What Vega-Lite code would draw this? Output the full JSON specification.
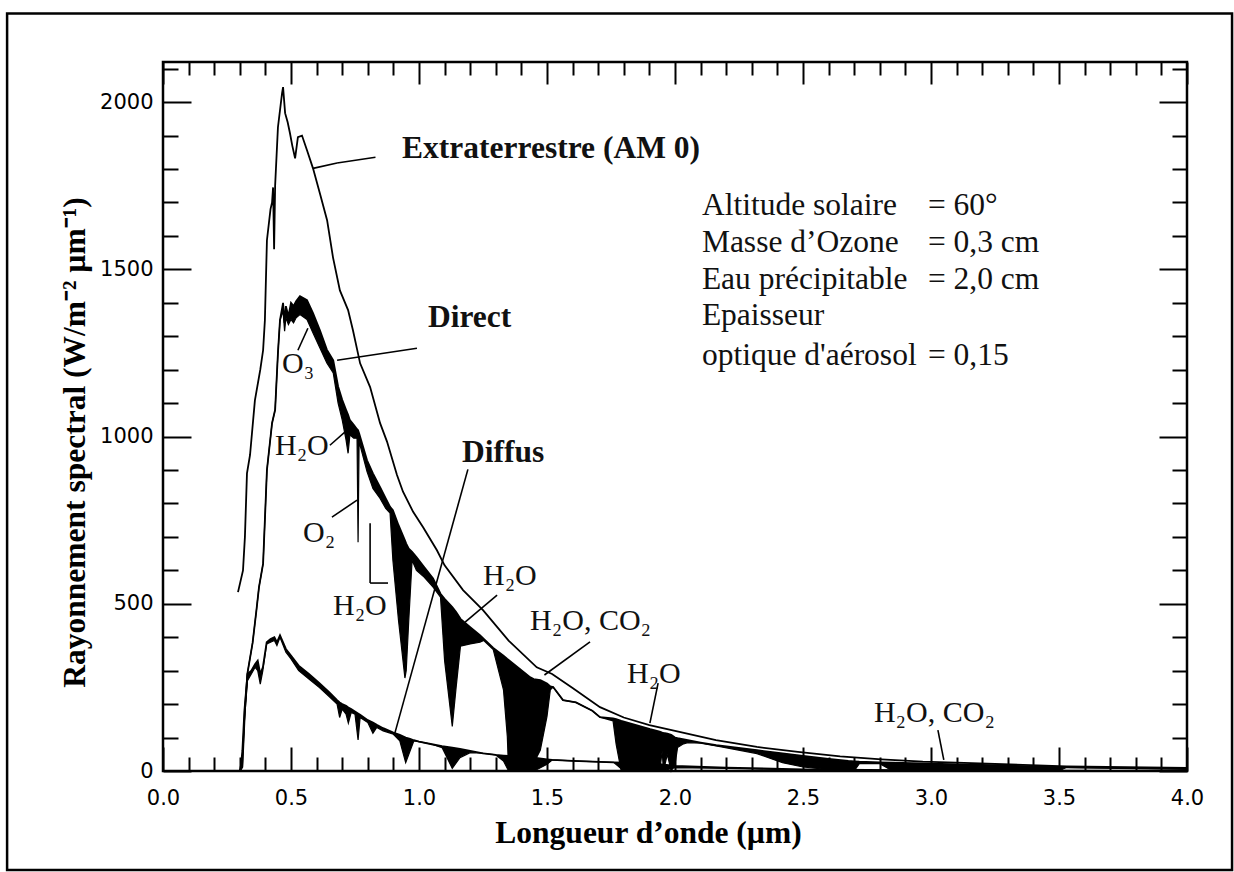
{
  "$schema": "https://vega.github.io/schema/vega-lite/v6.json",
  "width": 1024,
  "height": 709,
  "autosize": {"type": "none"},
  "padding": {"left": 163, "top": 62, "right": 47, "bottom": 101},
  "background": "white",
  "config": {"view": {"stroke": "black", "strokeWidth": 2.5}, "font": "Liberation Serif"},
  "datasets": {
    "border": [{"x": -0.609, "x2": 4.176, "y": 2265, "y2": -296}],
    "et": [
      {"x":0.293,"y":535},{"x":0.3125,"y":600},{"x":0.320,"y":700},{"x":0.328,"y":890},{"x":0.340,"y":945},
      {"x":0.359,"y":1108},{"x":0.380,"y":1200},{"x":0.391,"y":1258},{"x":0.398,"y":1348},{"x":0.406,"y":1587},
      {"x":0.420,"y":1680},{"x":0.426,"y":1700},{"x":0.430,"y":1745},{"x":0.434,"y":1560},{"x":0.438,"y":1750},
      {"x":0.449,"y":1925},{"x":0.465,"y":2026},{"x":0.469,"y":2045},{"x":0.477,"y":1967},{"x":0.487,"y":1940},
      {"x":0.496,"y":1907},{"x":0.505,"y":1870},{"x":0.516,"y":1832},{"x":0.527,"y":1895},{"x":0.543,"y":1900},
      {"x":0.5625,"y":1856},{"x":0.586,"y":1802},{"x":0.613,"y":1727},{"x":0.641,"y":1647},{"x":0.664,"y":1536},
      {"x":0.691,"y":1437},{"x":0.723,"y":1378},{"x":0.742,"y":1318},{"x":0.770,"y":1219},{"x":0.809,"y":1148},
      {"x":0.848,"y":1040},{"x":0.875,"y":985},{"x":0.914,"y":885},{"x":0.9375,"y":835},{"x":0.977,"y":775},
      {"x":1.016,"y":729},{"x":1.070,"y":660},{"x":1.100,"y":615},{"x":1.172,"y":541},{"x":1.250,"y":481},
      {"x":1.350,"y":390},{"x":1.460,"y":310},{"x":1.520,"y":290},{"x":1.600,"y":248},{"x":1.707,"y":191},
      {"x":1.800,"y":160},{"x":1.900,"y":137},{"x":2.000,"y":120},{"x":2.160,"y":92},{"x":2.320,"y":72},
      {"x":2.480,"y":57},{"x":2.645,"y":44},{"x":2.806,"y":35},{"x":2.968,"y":28},{"x":3.130,"y":24},
      {"x":3.530,"y":14},{"x":4.000,"y":9}
    ],
    "direct": [
      {"x":0.300,"env":0,"act":0},{"x":0.310,"env":12,"act":12},{"x":0.320,"env":182,"act":182},
      {"x":0.330,"env":293,"act":293},{"x":0.350,"env":383,"act":383},{"x":0.365,"env":481,"act":481},
      {"x":0.375,"env":550,"act":550},{"x":0.391,"env":620,"act":620},{"x":0.406,"env":900,"act":900},
      {"x":0.426,"env":1040,"act":1040},{"x":0.438,"env":1080,"act":1080},{"x":0.449,"env":1250,"act":1250},
      {"x":0.457,"env":1348,"act":1348},{"x":0.469,"env":1400,"act":1375},{"x":0.475,"env":1340,"act":1315},
      {"x":0.480,"env":1390,"act":1355},{"x":0.490,"env":1360,"act":1335},{"x":0.500,"env":1400,"act":1350},
      {"x":0.510,"env":1390,"act":1340},{"x":0.520,"env":1405,"act":1355},{"x":0.535,"env":1420,"act":1365},
      {"x":0.5625,"env":1408,"act":1350},{"x":0.586,"env":1369,"act":1310},{"x":0.613,"env":1318,"act":1265},
      {"x":0.640,"env":1260,"act":1220},{"x":0.665,"env":1228,"act":1190},{"x":0.684,"env":1150,"act":1100},
      {"x":0.700,"env":1110,"act":1050},{"x":0.715,"env":1080,"act":990},{"x":0.723,"env":1065,"act":950},
      {"x":0.730,"env":1049,"act":1005},{"x":0.745,"env":1035,"act":995},{"x":0.758,"env":1022,"act":995},
      {"x":0.762,"env":1019,"act":684},{"x":0.766,"env":1010,"act":985},{"x":0.797,"env":929,"act":895},
      {"x":0.820,"env":890,"act":845},{"x":0.848,"env":849,"act":815},{"x":0.870,"env":815,"act":785},
      {"x":0.887,"env":790,"act":771},{"x":0.898,"env":780,"act":630},{"x":0.920,"env":735,"act":450},
      {"x":0.945,"env":690,"act":278},{"x":0.950,"env":680,"act":300},{"x":0.960,"env":665,"act":450},
      {"x":0.973,"env":655,"act":630},{"x":0.990,"env":640,"act":600},{"x":1.020,"env":610,"act":580},
      {"x":1.055,"env":576,"act":550},{"x":1.084,"env":530,"act":520},{"x":1.100,"env":515,"act":330},
      {"x":1.130,"env":490,"act":133},{"x":1.145,"env":475,"act":250},{"x":1.162,"env":455,"act":373},
      {"x":1.200,"env":430,"act":380},{"x":1.238,"env":406,"act":385},{"x":1.253,"env":395,"act":390},
      {"x":1.290,"env":368,"act":363},{"x":1.330,"env":345,"act":243},{"x":1.345,"env":335,"act":103},
      {"x":1.350,"env":332,"act":0},{"x":1.435,"env":280,"act":0},{"x":1.448,"env":275,"act":23},
      {"x":1.474,"env":272,"act":63},{"x":1.500,"env":262,"act":163},{"x":1.513,"env":253,"act":243},
      {"x":1.524,"env":251,"act":251},{"x":1.5625,"env":212,"act":212},{"x":1.613,"env":205,"act":205},
      {"x":1.677,"env":180,"act":180},{"x":1.707,"env":161,"act":161},{"x":1.758,"env":157,"act":150},
      {"x":1.770,"env":155,"act":80},{"x":1.790,"env":150,"act":0},{"x":1.903,"env":125,"act":0},
      {"x":1.940,"env":118,"act":0},{"x":1.950,"env":115,"act":60},{"x":1.955,"env":114,"act":0},
      {"x":1.970,"env":112,"act":50},{"x":1.985,"env":108,"act":0},{"x":2.000,"env":100,"act":20},
      {"x":2.010,"env":98,"act":70},{"x":2.030,"env":95,"act":80},{"x":2.050,"env":92,"act":85},
      {"x":2.100,"env":85,"act":83},{"x":2.161,"env":77,"act":75},{"x":2.320,"env":62,"act":52},
      {"x":2.420,"env":53,"act":25},{"x":2.500,"env":45,"act":12},{"x":2.600,"env":36,"act":4},
      {"x":2.677,"env":30,"act":0},{"x":2.700,"env":29,"act":0},{"x":2.720,"env":28,"act":22},
      {"x":2.800,"env":26,"act":22},{"x":2.850,"env":25,"act":0},{"x":3.000,"env":22,"act":0},
      {"x":3.200,"env":18,"act":0},{"x":3.500,"env":12,"act":0},{"x":3.530,"env":11,"act":11},
      {"x":4.000,"env":6,"act":6}
    ],
    "diffuse": [
      {"x":0.300,"env":0,"act":0},{"x":0.305,"env":20,"act":10},{"x":0.310,"env":60,"act":40},
      {"x":0.318,"env":180,"act":150},{"x":0.330,"env":290,"act":270},{"x":0.345,"env":300,"act":290},
      {"x":0.360,"env":320,"act":310},{"x":0.370,"env":330,"act":300},{"x":0.380,"env":290,"act":260},
      {"x":0.390,"env":310,"act":300},{"x":0.405,"env":385,"act":380},{"x":0.420,"env":395,"act":385},
      {"x":0.435,"env":400,"act":390},{"x":0.445,"env":385,"act":375},{"x":0.457,"env":406,"act":400},
      {"x":0.480,"env":365,"act":355},{"x":0.500,"env":345,"act":335},{"x":0.530,"env":315,"act":300},
      {"x":0.570,"env":290,"act":275},{"x":0.610,"env":263,"act":250},{"x":0.650,"env":235,"act":222},
      {"x":0.680,"env":212,"act":200},{"x":0.690,"env":205,"act":160},{"x":0.700,"env":200,"act":185},
      {"x":0.715,"env":195,"act":170},{"x":0.724,"env":190,"act":143},{"x":0.735,"env":185,"act":175},
      {"x":0.750,"env":178,"act":170},{"x":0.762,"env":172,"act":93},{"x":0.770,"env":168,"act":160},
      {"x":0.800,"env":152,"act":145},{"x":0.820,"env":145,"act":113},{"x":0.835,"env":138,"act":130},
      {"x":0.860,"env":128,"act":120},{"x":0.900,"env":115,"act":110},{"x":0.925,"env":108,"act":90},
      {"x":0.948,"env":100,"act":25},{"x":0.965,"env":96,"act":60},{"x":0.980,"env":92,"act":90},
      {"x":1.000,"env":88,"act":88},{"x":1.050,"env":80,"act":80},{"x":1.090,"env":74,"act":70},
      {"x":1.130,"env":70,"act":8},{"x":1.160,"env":66,"act":40},{"x":1.200,"env":60,"act":55},
      {"x":1.250,"env":53,"act":53},{"x":1.300,"env":48,"act":48},{"x":1.330,"env":46,"act":30},
      {"x":1.350,"env":45,"act":0},{"x":1.450,"env":40,"act":0},{"x":1.500,"env":35,"act":20},
      {"x":1.520,"env":33,"act":33},{"x":1.600,"env":30,"act":30},{"x":1.760,"env":26,"act":26},
      {"x":1.800,"env":25,"act":0},{"x":1.950,"env":20,"act":0},{"x":2.000,"env":15,"act":10},
      {"x":2.200,"env":10,"act":8},{"x":2.500,"env":5,"act":3},{"x":3.000,"env":2,"act":0},
      {"x":4.000,"env":0,"act":0}
    ],
    "leaders": [
      {"x":0.586,"y":1802,"x2":0.68,"y2":1818},{"x":0.68,"y":1818,"x2":0.83,"y2":1835},
      {"x":0.68,"y":1228,"x2":0.992,"y2":1264},
      {"x":0.527,"y":1258,"x2":0.566,"y2":1324},
      {"x":0.652,"y":974,"x2":0.719,"y2":1019},
      {"x":0.66,"y":759,"x2":0.758,"y2":810},
      {"x":0.809,"y":741,"x2":0.809,"y2":562},{"x":0.809,"y":562,"x2":0.879,"y2":562},
      {"x":1.305,"y":526,"x2":1.18,"y2":445},
      {"x":1.668,"y":386,"x2":1.49,"y2":287},
      {"x":1.934,"y":263,"x2":1.902,"y2":143},
      {"x":3.027,"y":122,"x2":3.05,"y2":33},
      {"x":1.191,"y":902,"x2":0.906,"y2":114}
    ],
    "bold": [
      {"t":"Extraterrestre (AM 0)","x":0.934,"y":1832},
      {"t":"Direct","x":1.035,"y":1327},
      {"t":"Diffus","x":1.168,"y":924}
    ],
    "chem": [
      {"t":"O₃","x":0.465,"y":1190},
      {"t":"H₂O","x":0.4375,"y":944},
      {"t":"O₂","x":0.547,"y":684},
      {"t":"H₂O","x":0.664,"y":466},
      {"t":"H₂O","x":1.25,"y":556},
      {"t":"H₂O, CO₂","x":1.434,"y":421},
      {"t":"H₂O","x":1.8125,"y":263},
      {"t":"H₂O, CO₂","x":2.777,"y":146}
    ],
    "info": [
      {"t":"Altitude solaire","x":2.105,"y":1662},{"t":"= 60°","x":2.988,"y":1662},
      {"t":"Masse d’Ozone","x":2.105,"y":1551},{"t":"= 0,3 cm","x":2.988,"y":1551},
      {"t":"Eau précipitable","x":2.105,"y":1441},{"t":"= 2,0 cm","x":2.988,"y":1441},
      {"t":"Epaisseur","x":2.105,"y":1333},
      {"t":"optique d'aérosol","x":2.105,"y":1213},{"t":"= 0,15","x":2.988,"y":1213}
    ]
  },
  "layer": [
    {
      "data": {"name": "border"},
      "mark": {"type": "rect", "fill": null, "stroke": "black", "strokeWidth": 2.5, "clip": false},
      "encoding": {
        "x": {"field": "x", "type": "quantitative", "scale": {"domain": [0, 4], "nice": false, "zero": false}, "axis": null},
        "x2": {"field": "x2"},
        "y": {"field": "y", "type": "quantitative", "scale": {"domain": [0, 2120], "nice": false}, "axis": null},
        "y2": {"field": "y2"}
      }
    },
    {
      "data": {"name": "diffuse"},
      "mark": {"type": "area", "color": "black", "interpolate": "linear"},
      "encoding": {
        "x": {"field": "x", "type": "quantitative", "scale": {"domain": [0, 4], "nice": false, "zero": false}, "axis": null},
        "y": {"field": "env", "type": "quantitative", "scale": {"domain": [0, 2120], "nice": false}, "axis": null},
        "y2": {"field": "act"}
      }
    },
    {
      "data": {"name": "diffuse"},
      "mark": {"type": "line", "color": "black", "strokeWidth": 1.8},
      "encoding": {
        "x": {"field": "x", "type": "quantitative", "scale": {"domain": [0, 4], "nice": false, "zero": false}, "axis": null},
        "y": {"field": "env", "type": "quantitative", "scale": {"domain": [0, 2120], "nice": false}, "axis": null}
      }
    },
    {
      "data": {"name": "diffuse"},
      "mark": {"type": "line", "color": "black", "strokeWidth": 1.2},
      "encoding": {
        "x": {"field": "x", "type": "quantitative", "scale": {"domain": [0, 4], "nice": false, "zero": false}, "axis": null},
        "y": {"field": "act", "type": "quantitative", "scale": {"domain": [0, 2120], "nice": false}, "axis": null}
      }
    },
    {
      "data": {"name": "direct"},
      "mark": {"type": "area", "color": "black", "interpolate": "linear"},
      "encoding": {
        "x": {"field": "x", "type": "quantitative", "scale": {"domain": [0, 4], "nice": false, "zero": false}, "axis": null},
        "y": {"field": "env", "type": "quantitative", "scale": {"domain": [0, 2120], "nice": false}, "axis": null},
        "y2": {"field": "act"}
      }
    },
    {
      "data": {"name": "direct"},
      "mark": {"type": "line", "color": "black", "strokeWidth": 1.8},
      "encoding": {
        "x": {"field": "x", "type": "quantitative", "scale": {"domain": [0, 4], "nice": false, "zero": false},
          "axis": {"orient": "bottom", "values": [0,0.1,0.2,0.3,0.4,0.5,0.6,0.7,0.8,0.9,1,1.1,1.2,1.3,1.4,1.5,1.6,1.7,1.8,1.9,2,2.1,2.2,2.3,2.4,2.5,2.6,2.7,2.8,2.9,3,3.1,3.2,3.3,3.4,3.5,3.6,3.7,3.8,3.9,4],
            "labels": false, "domain": false, "grid": false, "title": null, "tickColor": "black", "tickWidth": 2,
            "tickSize": {"condition": {"test": "abs(datum.value*2-round(datum.value*2))<0.01", "value": -24}, "value": -14}}},
        "y": {"field": "env", "type": "quantitative", "scale": {"domain": [0, 2120], "nice": false},
          "axis": {"orient": "left", "values": [0,100,200,300,400,500,600,700,800,900,1000,1100,1200,1300,1400,1500,1600,1700,1800,1900,2000,2100],
            "labels": false, "domain": false, "grid": false, "title": null, "tickColor": "black", "tickWidth": 2,
            "tickSize": {"condition": {"test": "datum.value % 500 === 0", "value": -28}, "value": -15}}}
      }
    },
    {
      "data": {"name": "direct"},
      "mark": {"type": "line", "color": "black", "strokeWidth": 1.2},
      "encoding": {
        "x": {"field": "x", "type": "quantitative", "scale": {"domain": [0, 4], "nice": false, "zero": false},
          "axis": {"orient": "top", "values": [0,0.1,0.2,0.3,0.4,0.5,0.6,0.7,0.8,0.9,1,1.1,1.2,1.3,1.4,1.5,1.6,1.7,1.8,1.9,2,2.1,2.2,2.3,2.4,2.5,2.6,2.7,2.8,2.9,3,3.1,3.2,3.3,3.4,3.5,3.6,3.7,3.8,3.9,4],
            "labels": false, "domain": false, "grid": false, "title": null, "tickColor": "black", "tickWidth": 2,
            "tickSize": {"condition": {"test": "abs(datum.value*2-round(datum.value*2))<0.01", "value": -22}, "value": -13}}},
        "y": {"field": "act", "type": "quantitative", "scale": {"domain": [0, 2120], "nice": false},
          "axis": {"orient": "right", "values": [0,100,200,300,400,500,600,700,800,900,1000,1100,1200,1300,1400,1500,1600,1700,1800,1900,2000,2100],
            "labels": false, "domain": false, "grid": false, "title": null, "tickColor": "black", "tickWidth": 2,
            "tickSize": {"condition": {"test": "datum.value % 500 === 0", "value": -28}, "value": -15}}}
      }
    },
    {
      "data": {"name": "et"},
      "mark": {"type": "line", "color": "black", "strokeWidth": 1.8},
      "encoding": {
        "x": {"field": "x", "type": "quantitative", "scale": {"domain": [0, 4], "nice": false, "zero": false},
          "axis": {"orient": "bottom", "values": [0,0.5,1,1.5,2,2.5,3,3.5,4], "format": ".1f", "ticks": false, "domain": false, "grid": false,
            "labelFont": "DejaVu Sans", "labelFontSize": 21, "labelColor": "black", "labelPadding": 16, "labelFlush": false,
            "title": "Longueur d’onde (µm)", "titleFont": "Liberation Serif", "titleFontSize": 31.5, "titleFontWeight": "bold", "titleColor": "black",
            "titleX": 485, "titleY": 62, "titleBaseline": "middle", "titleAlign": "center"}},
        "y": {"field": "y", "type": "quantitative", "scale": {"domain": [0, 2120], "nice": false},
          "axis": {"orient": "left", "values": [0,500,1000,1500,2000], "format": "d", "ticks": false, "domain": false, "grid": false,
            "labelFont": "DejaVu Sans", "labelFontSize": 21, "labelColor": "black", "labelPadding": 10, "labelFlush": false,
            "title": "Rayonnement spectral (W/m⁻² µm⁻¹)", "titleFont": "Liberation Serif", "titleFontSize": 31.5, "titleFontWeight": "bold", "titleColor": "black",
            "titleX": -88, "titleY": 380, "titleAngle": -90, "titleBaseline": "middle", "titleAlign": "center"}}
      }
    },
    {
      "data": {"name": "leaders"},
      "mark": {"type": "rule", "color": "black", "strokeWidth": 1.6},
      "encoding": {
        "x": {"field": "x", "type": "quantitative", "scale": {"domain": [0, 4], "nice": false, "zero": false}, "axis": null},
        "y": {"field": "y", "type": "quantitative", "scale": {"domain": [0, 2120], "nice": false}, "axis": null},
        "x2": {"field": "x2"},
        "y2": {"field": "y2"}
      }
    },
    {
      "data": {"name": "bold"},
      "mark": {"type": "text", "font": "Liberation Serif", "fontWeight": "bold", "fontSize": 31.5, "align": "left", "baseline": "alphabetic", "color": "#111"},
      "encoding": {
        "x": {"field": "x", "type": "quantitative", "scale": {"domain": [0, 4], "nice": false, "zero": false}, "axis": null},
        "y": {"field": "y", "type": "quantitative", "scale": {"domain": [0, 2120], "nice": false}, "axis": null},
        "text": {"field": "t", "type": "nominal"}
      }
    },
    {
      "data": {"name": "chem"},
      "mark": {"type": "text", "font": "Liberation Serif", "fontSize": 30, "align": "left", "baseline": "alphabetic", "color": "#111"},
      "encoding": {
        "x": {"field": "x", "type": "quantitative", "scale": {"domain": [0, 4], "nice": false, "zero": false}, "axis": null},
        "y": {"field": "y", "type": "quantitative", "scale": {"domain": [0, 2120], "nice": false}, "axis": null},
        "text": {"field": "t", "type": "nominal"}
      }
    },
    {
      "data": {"name": "info"},
      "mark": {"type": "text", "font": "Liberation Serif", "fontSize": 31.5, "align": "left", "baseline": "alphabetic", "color": "#111"},
      "encoding": {
        "x": {"field": "x", "type": "quantitative", "scale": {"domain": [0, 4], "nice": false, "zero": false}, "axis": null},
        "y": {"field": "y", "type": "quantitative", "scale": {"domain": [0, 2120], "nice": false}, "axis": null},
        "text": {"field": "t", "type": "nominal"}
      }
    }
  ],
  "resolve": {"axis": {"x": "independent", "y": "independent"}}
}
